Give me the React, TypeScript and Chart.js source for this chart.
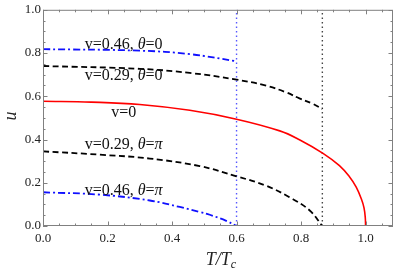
import React, { useEffect, useRef } from "react";
import { Chart, registerables } from "chart.js";

Chart.register(...registerables);

// ---- data ----
const tV0 = [0, 0.15, 0.3, 0.455, 0.6, 0.734, 0.795, 0.868, 0.919, 0.95, 0.971, 0.987, 0.995, 0.999, 1.0];
const uV0 = [0.577, 0.573, 0.562, 0.535, 0.494, 0.44, 0.399, 0.336, 0.279, 0.228, 0.18, 0.125, 0.085, 0.04, 0];

const tV029Zero = [0, 0.3, 0.455, 0.6, 0.692, 0.754, 0.795, 0.837, 0.866];
const uV029Zero = [0.74, 0.727, 0.708, 0.677, 0.649, 0.618, 0.59, 0.565, 0.541];

const tV029Pi = [0, 0.176, 0.331, 0.486, 0.6, 0.692, 0.764, 0.826, 0.866];
const uV029Pi = [0.345, 0.33, 0.312, 0.277, 0.23, 0.186, 0.133, 0.073, 0];

const tV046Zero = [0, 0.3, 0.455, 0.6];
const uV046Zero = [0.818, 0.811, 0.795, 0.762];

const tV046Pi = [0, 0.176, 0.331, 0.424, 0.486, 0.517, 0.568, 0.6];
const uV046Pi = [0.156, 0.145, 0.118, 0.088, 0.065, 0.052, 0.024, 0];

const vLineBlue = 0.6;
const vLineBlack = 0.866;

const xTickValues = [0, 0.2, 0.4, 0.6, 0.8, 1.0];
const yTickValues = [0, 0.2, 0.4, 0.6, 0.8, 1.0];

const curveLabels = [
  { text: "v=0.46, θ=0", x: 0.25, y: 0.818 },
  { text: "v=0.29, θ=0", x: 0.25, y: 0.677 },
  { text: "v=0", x: 0.25, y: 0.505 },
  { text: "v=0.29, θ=π", x: 0.25, y: 0.355 },
  { text: "v=0.46, θ=π", x: 0.25, y: 0.145 },
];

const toPts = (xs: number[], ys: number[]) => xs.map((x, i) => ({ x, y: ys[i] }));

const SERIF = "'Liberation Serif', 'DejaVu Serif', serif";
const FRAME = "#808080";

const decorPlugin = {
  id: "decor",
  afterDatasetsDraw(chart: any) {
    const { ctx, chartArea: a, scales } = chart;
    const xs = scales.x;
    const ys = scales.y;
    ctx.save();
    // frame
    ctx.strokeStyle = FRAME;
    ctx.lineWidth = 1;
    ctx.strokeRect(a.left + 0.5, a.top + 0.5, a.right - a.left - 1, a.bottom - a.top - 1);
    // inward ticks
    ctx.beginPath();
    for (let i = 0; i <= 21; i++) {
      const v = i * 0.05;
      const px = Math.round(xs.getPixelForValue(v)) + 0.5;
      if (px > a.right - 1) continue;
      const len = i % 4 === 0 ? 4.5 : 2.5;
      ctx.moveTo(px, a.bottom);
      ctx.lineTo(px, a.bottom - len);
      ctx.moveTo(px, a.top);
      ctx.lineTo(px, a.top + len);
    }
    for (let i = 0; i <= 20; i++) {
      const v = i * 0.05;
      const py = Math.round(ys.getPixelForValue(v)) + 0.5;
      const len = i % 4 === 0 ? 4.5 : 2.5;
      ctx.moveTo(a.left, py);
      ctx.lineTo(a.left + len, py);
      ctx.moveTo(a.right, py);
      ctx.lineTo(a.right - len, py);
    }
    ctx.stroke();

    // curve labels
    ctx.fillStyle = "#111";
    ctx.textBaseline = "alphabetic";
    const normal = `16px ${SERIF}`;
    const italic = `italic 16px ${SERIF}`;
    for (const lab of curveLabels) {
      const parts: { s: string; f: string }[] = [];
      for (const ch of lab.text) {
        const f = ch === "θ" || ch === "π" ? italic : normal;
        if (parts.length && parts[parts.length - 1].f === f) parts[parts.length - 1].s += ch;
        else parts.push({ s: ch, f });
      }
      let w = 0;
      for (const p of parts) {
        ctx.font = p.f;
        w += ctx.measureText(p.s).width;
      }
      let cx = xs.getPixelForValue(lab.x) - w / 2;
      const cy = ys.getPixelForValue(lab.y);
      ctx.textAlign = "left";
      for (const p of parts) {
        ctx.font = p.f;
        ctx.fillText(p.s, cx, cy);
        cx += ctx.measureText(p.s).width;
      }
    }

    // axis titles
    ctx.fillStyle = "#222";
    ctx.font = `italic 18px ${SERIF}`;
    ctx.textAlign = "left";
    const t1 = "T/T";
    const wt = ctx.measureText(t1).width;
    ctx.font = `italic 12px ${SERIF}`;
    const wc = ctx.measureText("c").width;
    const startX = 221 - (wt + wc) / 2;
    ctx.font = `italic 18px ${SERIF}`;
    ctx.fillText(t1, startX, 265);
    ctx.font = `italic 12px ${SERIF}`;
    ctx.fillText("c", startX + wt, 268);

    ctx.save();
    ctx.translate(16, 116);
    ctx.rotate(-Math.PI / 2);
    ctx.font = `italic 18px ${SERIF}`;
    ctx.textAlign = "center";
    ctx.fillText("u", 0, 0);
    ctx.restore();

    ctx.restore();
  },
};

export default function App() {
  const ref = useRef<HTMLCanvasElement | null>(null);
  useEffect(() => {
    if (!ref.current) return;
    const chart = new Chart(ref.current, {
      type: "line",
      data: {
        datasets: [
          {
            label: "v=0.46, θ=0",
            data: toPts(tV046Zero, uV046Zero),
            borderColor: "#1010ff",
            borderWidth: 1.8,
            borderDash: [7, 3, 2, 3],
            tension: 0.4,
            pointRadius: 0,
          },
          {
            label: "v=0.29, θ=0",
            data: toPts(tV029Zero, uV029Zero),
            borderColor: "#000",
            borderWidth: 1.8,
            borderDash: [6, 3.5],
            tension: 0.4,
            pointRadius: 0,
          },
          {
            label: "v=0",
            data: toPts(tV0, uV0),
            borderColor: "#ff0000",
            borderWidth: 1.6,
            tension: 0.4,
            pointRadius: 0,
          },
          {
            label: "v=0.29, θ=π",
            data: toPts(tV029Pi, uV029Pi),
            borderColor: "#000",
            borderWidth: 1.8,
            borderDash: [6, 3.5],
            tension: 0.4,
            pointRadius: 0,
          },
          {
            label: "v=0.46, θ=π",
            data: toPts(tV046Pi, uV046Pi),
            borderColor: "#1010ff",
            borderWidth: 1.8,
            borderDash: [7, 3, 2, 3],
            tension: 0.4,
            pointRadius: 0,
          },
          {
            label: "blue limit",
            data: [
              { x: vLineBlue, y: 0 },
              { x: vLineBlue, y: 1 },
            ],
            borderColor: "#5858ff",
            borderWidth: 1.4,
            borderDash: [1.5, 3],
            pointRadius: 0,
          },
          {
            label: "black limit",
            data: [
              { x: vLineBlack, y: 0 },
              { x: vLineBlack, y: 1 },
            ],
            borderColor: "#444",
            borderWidth: 1.4,
            borderDash: [1.5, 3],
            pointRadius: 0,
          },
        ],
      },
      options: {
        animation: false,
        responsive: false,
        devicePixelRatio: 1,
        layout: { padding: { top: 6, right: 6, left: 0, bottom: 0 } },
        plugins: { legend: { display: false }, tooltip: { enabled: false } },
        scales: {
          x: {
            type: "linear",
            min: 0,
            max: 1.085,
            grid: { display: false, drawTicks: false },
            border: { display: false },
            afterBuildTicks: (s: any) => {
              s.ticks = xTickValues.map((v) => ({ value: v }));
            },
            afterFit: (s: any) => {
              s.height = 46;
            },
            ticks: {
              padding: 5,
              color: "#222",
              font: { family: SERIF, size: 13 },
              maxRotation: 0,
              autoSkip: false,
              callback: (v: any) => Number(v).toFixed(1),
            },
          },
          y: {
            type: "linear",
            min: 0,
            max: 1,
            grid: { display: false, drawTicks: false },
            border: { display: false },
            afterBuildTicks: (s: any) => {
              s.ticks = yTickValues.map((v) => ({ value: v }));
            },
            afterFit: (s: any) => {
              s.width = 43;
            },
            ticks: {
              padding: 2,
              color: "#222",
              font: { family: SERIF, size: 13 },
              autoSkip: false,
              callback: (v: any) => Number(v).toFixed(1),
            },
          },
        },
      },
      plugins: [decorPlugin],
    } as any);
    return () => chart.destroy();
  }, []);
  return (
    <div style={{ position: "absolute", left: 0, top: 0, width: 399, height: 272, background: "#fff" }}>
      <canvas ref={ref} width={399} height={272} style={{ width: 399, height: 272, display: "block" }} />
    </div>
  );
}
